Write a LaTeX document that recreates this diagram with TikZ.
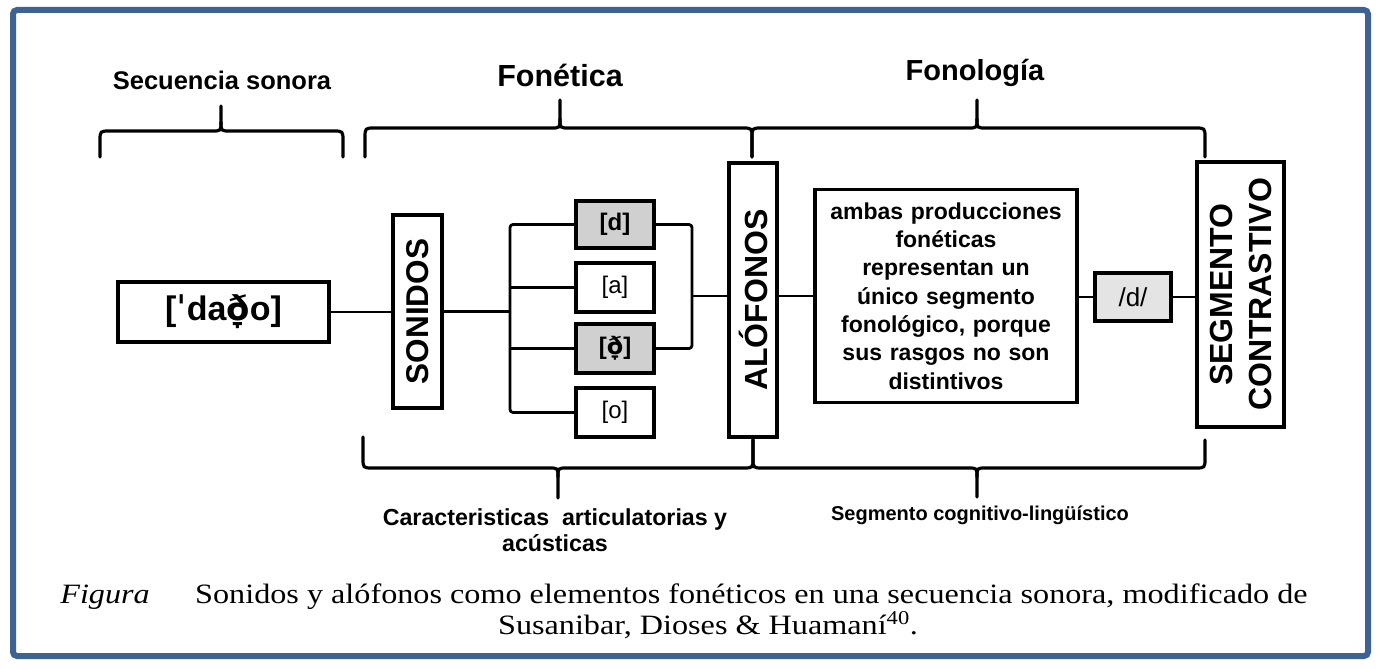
\documentclass[tikz,border=0pt]{standalone}
\usepackage{fontspec}
\setmainfont{Liberation Serif}
\newfontfamily\arial{Liberation Sans}
\newfontfamily\dejavu{DejaVu Sans}
\usepackage{graphicx}
\definecolor{frameblue}{RGB}{62,98,145}
\definecolor{boxgray}{RGB}{208,208,208}
\definecolor{boxlight}{RGB}{228,228,228}
\newcommand{\mybrace}[7]{%
  \draw[bracestyle] (#1,#6) -- (#1,{#4+10*#7}) .. controls (#1,#4) .. ({#1+10},#4) -- ({#3-9},#4) .. controls (#3,#4) .. (#3,{#4-9*#7}) -- (#3,#5);
  \draw[bracestyle] (#3,{#4-9*#7}) .. controls (#3,#4) .. ({#3+9},#4) -- ({#2-10},#4) .. controls (#2,#4) .. (#2,{#4+10*#7}) -- (#2,#6);}
\begin{document}
\begin{tikzpicture}[x=1pt,y=-1pt,
  box/.style={draw=black, line width=3.5pt, inner sep=0pt, anchor=center, fill=white},
  conn/.style={line width=2.8pt, line join=round, rounded corners=3pt},
  bracestyle/.style={line width=3.2pt, line cap=round, line join=round},
  hdr/.style={font=\arial\bfseries\fontsize{29}{34}\selectfont, inner sep=0pt},
  lbl/.style={font=\arial\bfseries\fontsize{22}{26}\selectfont, align=center, inner sep=0pt},
  smalltxt/.style={font=\arial\fontsize{24}{28}\selectfont},
  captext/.style={font=\fontsize{28}{32}\selectfont, inner sep=0pt},
  ]
\useasboundingbox (0,0) rectangle (1379,669);
\fill[white] (0,0) rectangle (1379,669);
\draw[frameblue, line width=6pt, rounded corners=4pt] (13,10) rectangle (1368,656);

% headers
\node[hdr, font=\arial\bfseries\fontsize{25.5}{30}\selectfont] (secuencia) at (222,80) {Secuencia sonora};
\node[hdr, font=\arial\bfseries\fontsize{30.5}{34}\selectfont] (fonetica) at (560,75) {Fonética};
\node[hdr] (fonologia) at (975,73) {Fonología};

% braces
\mybrace{100}{343}{221}{131}{106}{157}{1}
\mybrace{365}{752}{560}{128}{100}{157}{1}
\mybrace{752}{1205}{977}{128}{100}{157}{1}
\mybrace{363}{753}{558}{468}{498}{437}{-1}
\mybrace{753}{1205}{977}{468}{497}{440}{-1}

% boxes
\node[box, minimum width=211pt, minimum height=60pt, font=\arial\bfseries\fontsize{34}{40}\selectfont] (dado) at (223.5,312) {[{\dejavu\bfseries ˈ}da{\dejavu\bfseries ð̞}o]};
\node[box, minimum width=49pt, minimum height=193pt] (sonidos) at (417.5,311.5) {\rotatebox{90}{\arial\bfseries\fontsize{31.5}{34}\selectfont SONIDOS}};
\node[box, fill=boxgray, minimum width=78pt, minimum height=47pt, font=\arial\bfseries\fontsize{24}{28}\selectfont] (d) at (615,224.5) {[d]};
\node[box, minimum width=78pt, minimum height=49pt, smalltxt] (a) at (615,287.5) {[a]};
\node[box, fill=boxgray, minimum width=78pt, minimum height=49pt, font=\arial\bfseries\fontsize{24}{28}\selectfont] (dh) at (615,348.5) {[{\dejavu\bfseries ð̞}]};
\node[box, minimum width=78pt, minimum height=49pt, smalltxt] (o) at (615,412.5) {[o]};
\node[box, minimum width=48pt, minimum height=274pt] (alof) at (753,300) {\rotatebox{90}{\arial\bfseries\fontsize{32}{36}\selectfont ALÓFONOS}};
\node[box, minimum width=262pt, minimum height=213pt, text width=250pt, align=center, font=\arial\bfseries\fontsize{23}{28.3}\selectfont] (ambas) at (946,296) {ambas producciones\\fonéticas\\representan un\\único segmento\\fonológico, porque\\sus rasgos no son\\distintivos};
\node[box, fill=boxlight, minimum width=76pt, minimum height=48pt, font=\arial\fontsize{26}{30}\selectfont] (sd) at (1133,297) {/d/};
\node[box, minimum width=87pt, minimum height=265pt] (seg) at (1240.5,294.5) {\rotatebox{90}{\parbox{260pt}{\centering\arial\bfseries\fontsize{32}{39}\selectfont SEGMENTO\\CONTRASTIVO}}};

% connectors
\coordinate (busL) at (510,0);
\coordinate (busR) at (692,0);
\coordinate (alofrow) at (0,296);
\draw[conn] (dado.east) -- (sonidos.west |- dado.east);
\draw[conn] (sonidos.east) -- (sonidos.east -| busL);
\draw[conn] (d.west) -- (d.west -| busL) -- (o.west -| busL) -- (o.west);
\draw[conn] (a.west) -- (a.west -| busL);
\draw[conn] (dh.west) -- (dh.west -| busL);
\draw[conn] (d.east) -- (d.east -| busR) -- (dh.east -| busR) -- (dh.east);
\draw[conn] (alof.west |- alofrow) -- (busR |- alofrow);
\draw[conn] (alof.east |- ambas.west) -- (ambas.west);
\draw[conn] (ambas.east |- sd.west) -- (sd.west);
\draw[conn] (sd.east) -- (seg.west |- sd.east);

% bottom labels
\node[lbl, font=\arial\bfseries\fontsize{23.2}{26}\selectfont] (caract) at (555,530) {Caracteristicas\ \ articulatorias y\\acústicas};
\node[lbl, font=\arial\bfseries\fontsize{20}{24}\selectfont] (segcog) at (980,515) {Segmento cognitivo-lingüístico};

% caption
\node[captext, anchor=base east] (fig) at (150,603) {\scalebox{1.15}[1]{\textit{Figura}}};
\node[captext, anchor=base west] (cap1) at (195,603) {\scalebox{1.15}[1]{Sonidos y alófonos como elementos fonéticos en una secuencia sonora, modificado de}};
\node[captext, anchor=base] (cap2) at (708,634) {\scalebox{1.15}[1]{Susanibar, Dioses \& Huamaní\textsuperscript{40}.}};
\end{tikzpicture}
\end{document}
